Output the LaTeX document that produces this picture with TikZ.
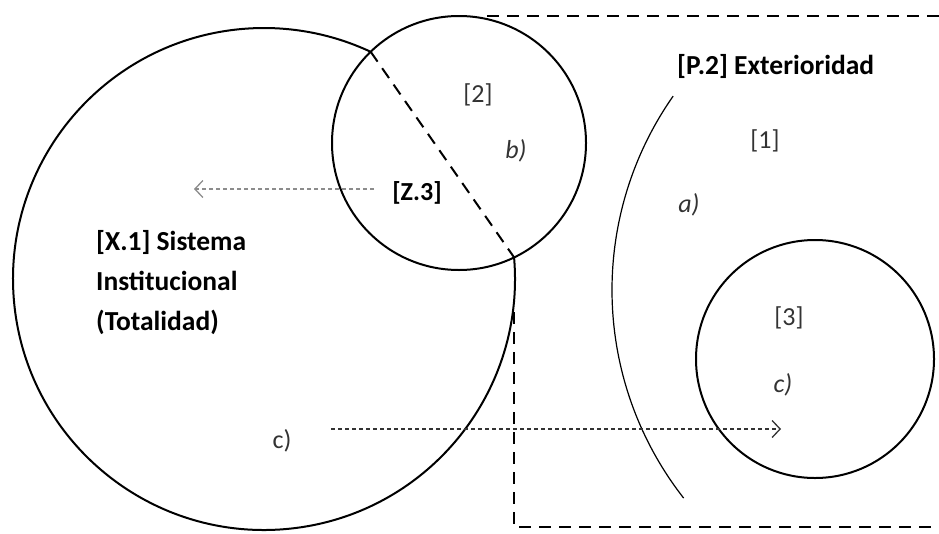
\documentclass[tikz,border=0pt]{standalone}
\usepackage{fontspec}
\setmainfont{Carlito}
\usetikzlibrary{arrows.meta}

\tikzset{
  ring/.style={line width=2pt},
  frame/.style={line width=2pt, dash pattern=on 12pt off 8pt},
  pointer/.style={line width=1.6pt, dash pattern=on 4pt off 3pt,
    -{Straight Barb[length=8pt,width=17pt,line width=1.3pt]}},
  tag/.style={text=black!80, inner sep=0pt},
  title/.style={inner sep=0pt, font=\fontsize{27.5}{40}\selectfont\bfseries},
}

\begin{document}
\begin{tikzpicture}[x=1pt, y=-1pt, font=\fontsize{26}{40}\selectfont]
  \useasboundingbox (0,0) rectangle (939,533);
  % ---- [X.1] big circle, cut open where it meets [2] ----
  \draw[ring] (264,279) ++(-4.94:251) arc[start angle=-4.94, end angle=295.16, radius=251];
  \draw[frame] (370.7,51.8) -- (514.1,257.4);
  % ---- [2] circle ----
  \draw[ring] (459,143) circle[radius=127];
  % ---- [P.2] dashed frame ----
  \draw[frame] (487,16) -- (945,16);
  \draw[frame] (514,312) -- (514,527) -- (945,527);
  % ---- a) arc and [3] circle ----
  \draw[line width=1.2pt] (950,290) ++(142:338) arc[start angle=142, end angle=215, radius=338];
  \draw[ring] (815,359) circle[radius=119];
  % ---- labels ----
  \node[tag] (two) at (478,95) {[2]};
  \node[tag] (lb) at (516,151) {\itshape b)};
  \node[inner sep=0pt] (z3) at (417,193) {\bfseries [Z.3]};
  \node[title, align=left, anchor=west] (x1) at (96,283)
    {[X.1] Sistema\\Institucional\\(Totalidad)};
  \node[tag] (lc) at (282,441) {c)};
  \node[title, anchor=west] (p2) at (677,66) {[P.2] Exterioridad};
  \node[tag] (one) at (765,141) {[1]};
  \node[tag] (la) at (689,205) {\itshape a)};
  \node[tag] (three) at (789,318) {[3]};
  \node[tag] (lc3) at (783,385) {\itshape c)};
  % ---- arrows ----
  \coordinate (zl) at (194,189);
  \coordinate (cs) at (331,429);
  \coordinate (ce) at (781,429);
  \draw[pointer, black!45, shorten <=18pt] (z3.west |- zl) -- (zl);
  \draw[pointer, black!80] (cs) -- (ce);
\end{tikzpicture}
\end{document}
